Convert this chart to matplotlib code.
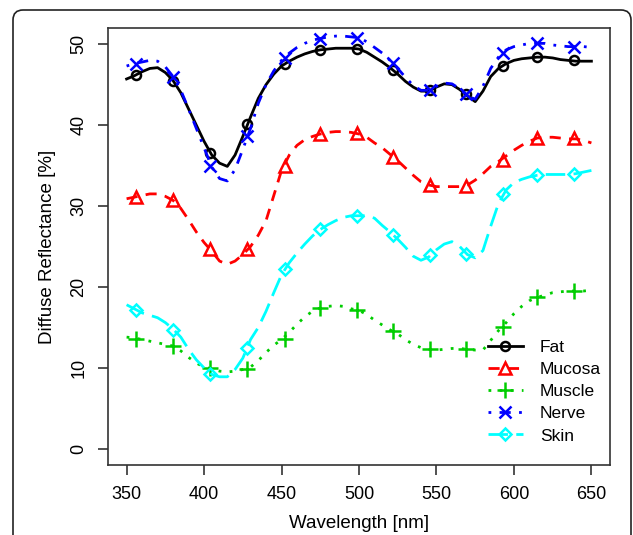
import matplotlib
matplotlib.use("Agg")
import matplotlib.pyplot as plt
from matplotlib.patches import FancyBboxPatch

plt.rcParams['font.family'] = ['Liberation Sans', 'DejaVu Sans']

# curve samples, every 5 nm
wl = [350, 355, 360, 365, 370, 375, 380, 385, 390, 395, 400, 405, 410, 415, 420,
      425, 430, 435, 440, 445, 450, 455, 460, 465, 470, 475, 480, 485, 490, 495,
      500, 505, 510, 515, 520, 525, 530, 535, 540, 545, 550, 555, 560, 565, 570,
      575, 580, 585, 590, 595, 600, 605, 610, 615, 620, 625, 630, 635, 640, 645, 650]

fat = [45.7, 46.1, 46.6, 47.0, 47.1, 46.5, 45.5, 44.0, 42.0, 40.0, 38.0, 36.3, 35.3, 34.9, 36.3,
       38.6, 41.0, 43.3, 45.0, 46.3, 47.3, 47.9, 48.4, 48.8, 49.1, 49.3, 49.4, 49.5, 49.5, 49.5,
       49.4, 49.0, 48.4, 47.8, 47.1, 46.3, 45.4, 44.7, 44.2, 44.2, 44.7, 45.1, 45.0, 44.4, 43.6,
       42.9, 44.2, 46.0, 47.0, 47.6, 48.0, 48.2, 48.3, 48.4, 48.4, 48.3, 48.1, 48.0, 47.9, 47.9, 47.9]

mucosa = [30.9, 31.1, 31.3, 31.5, 31.5, 31.2, 30.7, 29.7, 28.3, 26.8, 25.5, 24.4, 23.2, 22.8, 23.2,
          24.0, 25.0, 26.4, 28.2, 31.3, 34.4, 36.3, 37.5, 38.2, 38.6, 38.9, 39.1, 39.2, 39.2, 39.1,
          38.9, 38.5, 37.8, 37.2, 36.4, 35.6, 34.7, 33.8, 33.0, 32.6, 32.4, 32.4, 32.4, 32.4, 32.6,
          33.2, 34.0, 34.9, 35.5, 36.2, 36.9, 37.5, 38.0, 38.4, 38.5, 38.5, 38.4, 38.3, 38.3, 38.1, 37.8]

muscle = [13.8, 13.7, 13.5, 13.3, 13.1, 12.9, 12.7, 12.1, 11.3, 10.6, 10.1, 9.9, 9.6, 9.5, 9.6,
          9.8, 10.1, 10.9, 11.9, 12.8, 13.5, 14.4, 15.4, 16.3, 17.0, 17.4, 17.6, 17.7, 17.6, 17.3,
          17.1, 16.6, 15.9, 15.3, 14.7, 14.2, 13.5, 12.9, 12.5, 12.3, 12.2, 12.3, 12.4, 12.4, 12.3,
          12.2, 12.2, 13.4, 14.6, 15.6, 16.7, 17.6, 18.3, 18.7, 19.0, 19.3, 19.4, 19.5, 19.5, 19.5, 19.6]

nerve = [47.3, 47.6, 47.8, 48.0, 47.9, 47.2, 46.0, 44.3, 42.0, 39.6, 37.2, 34.8, 33.4, 33.1, 34.5,
         37.0, 39.6, 42.7, 45.0, 46.7, 48.0, 48.9, 49.6, 50.1, 50.5, 50.7, 50.9, 51.0, 51.0, 50.9,
         50.8, 50.3, 49.6, 48.9, 48.0, 47.0, 45.9, 44.9, 44.3, 44.3, 44.8, 45.2, 45.1, 44.5, 43.6,
         43.2, 44.8, 47.0, 48.4, 49.3, 49.7, 49.9, 50.1, 50.1, 50.1, 49.9, 49.8, 49.7, 49.7, 49.7, 49.6]

skin = [17.8, 17.3, 16.8, 16.5, 16.2, 15.6, 14.8, 13.8, 12.3, 11.0, 10.0, 9.2, 8.9, 8.9, 9.8,
        11.2, 13.5, 15.0, 17.0, 19.3, 21.5, 23.0, 24.2, 25.3, 26.3, 27.1, 27.7, 28.2, 28.6, 28.8,
        28.8, 28.8, 28.5, 27.6, 26.8, 25.9, 24.9, 23.8, 23.3, 23.7, 24.6, 25.3, 25.6, 25.0, 24.0,
        23.6, 24.5, 27.5, 30.3, 32.0, 32.9, 33.3, 33.6, 33.8, 33.9, 33.9, 33.9, 33.9, 34.0, 34.2, 34.4]

# marker positions
marker_wl = [356, 380, 404, 428, 452, 475, 499, 522, 546, 569, 593, 615, 639]
fat_m = [46.2, 45.4, 36.5, 40.1, 47.6, 49.3, 49.4, 46.8, 44.3, 43.8, 47.3, 48.4, 48.0]
mucosa_m = [31.1, 30.7, 24.7, 24.7, 35.0, 38.9, 39.0, 36.0, 32.6, 32.5, 35.7, 38.4, 38.4]
muscle_m = [13.6, 12.7, 10.0, 9.9, 13.6, 17.4, 17.1, 14.6, 12.3, 12.35, 15.0, 18.7, 19.5]
nerve_m = [47.6, 46.0, 35.0, 38.7, 48.3, 50.7, 50.8, 47.7, 44.3, 43.8, 48.9, 50.1, 49.7]
skin_m = [17.1, 14.7, 9.3, 12.4, 22.2, 27.2, 28.8, 26.4, 24.0, 24.1, 31.5, 33.8, 33.9]

names = ["Fat", "Mucosa", "Muscle", "Nerve", "Skin"]
curves = [fat, mucosa, muscle, nerve, skin]
marks = [fat_m, mucosa_m, muscle_m, nerve_m, skin_m]
colors = ["black", "#ff0000", "#00cd00", "#0000ff", "#00ffff"]
dashes = [(None, None), (4, 3), (1, 3), (1, 3, 4, 3), (7, 3)]
markers = ["o", "^", "+", "x", "D"]
msizes = [6.5, 8, 11, 8, 6]

fig = plt.figure(figsize=(6.33, 5.35), dpi=100)

# rounded panel frame
frame = FancyBboxPatch((0.13, -0.3), 6.18, 5.55, boxstyle="round,pad=0,rounding_size=0.1",
                       transform=fig.dpi_scale_trans, facecolor="none", edgecolor="#222222",
                       linewidth=1.2)
fig.patches.append(frame)

ax = fig.add_axes([108 / 633, 1 - 465 / 535, 502 / 633, 437 / 535])

handles = []
for name, y, ym, c, d, m, ms in zip(names, curves, marks, colors, dashes, markers, msizes):
    line, = ax.plot(wl, y, color=c, lw=2)
    if d[0] is not None:
        line.set_dashes(d)
    ax.plot(marker_wl, ym, linestyle="none", marker=m, ms=ms, mfc="none", mec=c, mew=1.8)
    h, = ax.plot([], [], color=c, lw=2, marker=m, ms=ms, mfc="none", mec=c, mew=1.8)
    if d[0] is not None:
        h.set_dashes(d)
    handles.append(h)

ax.set_xlim(338, 662)
ax.set_ylim(-2, 52)
ax.set_xticks([350, 400, 450, 500, 550, 600, 650])
ax.set_yticks([0, 10, 20, 30, 40, 50])
for s in ax.spines.values():
    s.set_color("#333333")
    s.set_linewidth(1.2)
ax.tick_params(axis="both", length=7, width=1.2, color="#333333", labelsize=13)
ax.tick_params(axis="x", pad=8)
ax.tick_params(axis="y", pad=8)
for lab in ax.get_yticklabels():
    lab.set_rotation(90)
    lab.set_va("center")

ax.set_xlabel("Wavelength [nm]", fontsize=13.5, labelpad=9)
ax.set_ylabel("Diffuse Reflectance [%]", fontsize=13.5, labelpad=10)

ax.legend(handles, names, loc="upper left", bbox_to_anchor=(488 / 633, 1 - 340 / 535),
          bbox_transform=fig.transFigure, frameon=False, fontsize=12.5, numpoints=1,
          handlelength=2.0, handletextpad=1.0, labelspacing=0.4, borderpad=0,
          borderaxespad=0)

fig.savefig("out.png", dpi=100)
